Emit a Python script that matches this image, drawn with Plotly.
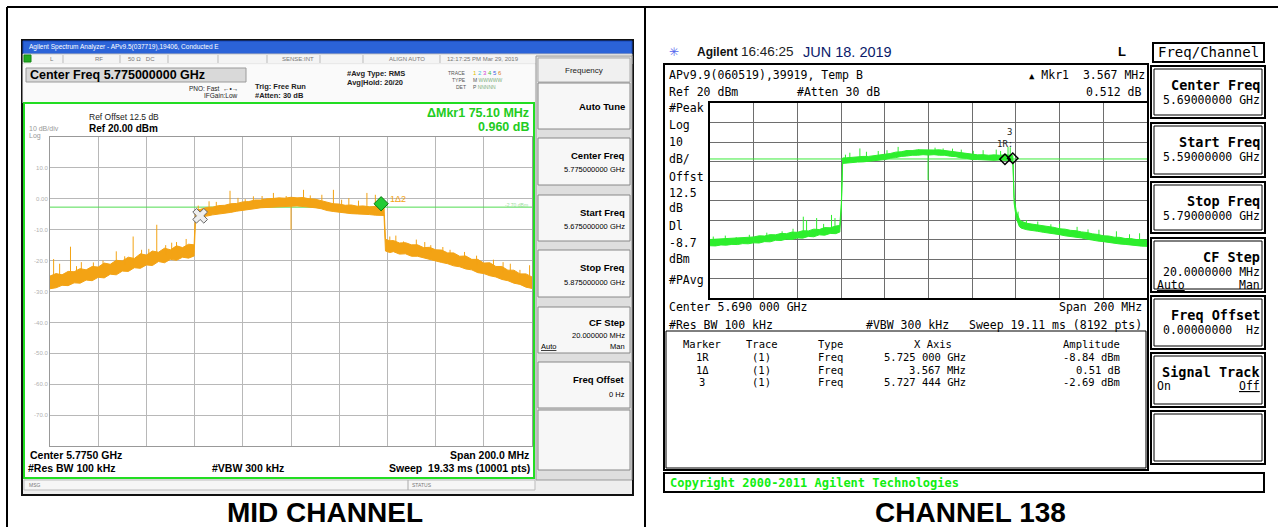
import plotly.graph_objects as go

W, H = 1278, 527
SANS = 'Liberation Sans, Arial, sans-serif'
MONO = 'DejaVu Sans Mono, monospace'

# ---- MID CHANNEL (left analyzer), offsets in MHz from 5675 MHz ----
mid_start = 5675
mid_f = [0, 2.5, 5, 7.5, 10, 12.5, 15, 17.5, 20, 22.5, 25, 27.5, 30, 32.5, 35, 37.5, 40, 42.5,
         45, 47.5, 50, 52.5, 55, 57.5, 59.8,
         60.4, 62.5, 65, 67.5, 70, 72.5, 75, 77.5, 80, 82.5, 85, 87.5, 90, 92.5, 95, 97.5, 100,
         102.5, 105, 107.5, 110, 112.5, 115, 117.5, 120, 122.5, 125, 127.5, 130, 132.5, 135,
         137.5, 138.6,
         139.2, 141, 142.5, 145, 147.5, 150, 152.5, 155, 157.5, 160, 162.5, 165, 167.5, 170,
         172.5, 175, 177.5, 180, 182.5, 185, 187.5, 190, 192.5, 195, 197.5, 200]
mid_hi = [-25.0, -24.2, -24.6, -23.5, -23.6, -22.6, -23.0, -21.9, -22.1, -20.8, -21.2, -19.9,
          -20.1, -18.9, -19.3, -17.8, -18.2, -16.9, -17.3, -16.0, -16.5, -15.2, -15.8, -14.7,
          -14.9,
          -3.6, -3.4, -2.8, -2.7, -2.2, -2.1, -1.6, -1.5, -1.0, -0.9, -0.4, -0.4, 0.0, 0.1, 0.3,
          0.2, 0.5, 0.3, 0.4, 0.0, -0.1, -0.6, -1.0, -1.6, -1.7, -2.1, -2.0, -2.4, -2.3, -2.6,
          -2.5, -2.8, -2.6,
          -13.1, -13.6, -13.5, -14.3, -14.2, -14.9, -14.9, -15.8, -15.7, -16.5, -16.6, -17.5,
          -17.5, -18.6, -18.5, -19.6, -19.6, -20.8, -20.7, -21.9, -21.9, -23.1, -23.1, -24.3,
          -24.3, -25.3]
mid_lo = [-29.1, -28.8, -28.0, -28.1, -27.2, -27.3, -26.3, -26.5, -25.4, -25.6, -24.4, -24.6,
          -23.4, -23.5, -22.3, -22.5, -21.4, -21.6, -20.3, -20.7, -19.6, -19.9, -18.9, -19.2,
          -18.5,
          -6.4, -5.9, -5.6, -5.2, -5.0, -4.6, -4.4, -4.0, -3.8, -3.4, -3.2, -2.9, -2.8, -2.5,
          -2.5, -2.3, -2.4, -2.3, -2.5, -2.6, -2.9, -3.2, -3.8, -4.1, -4.5, -4.6, -4.8, -4.9,
          -5.1, -5.1, -5.3, -5.3, -5.4,
          -16.9, -17.4, -17.1, -17.9, -17.8, -18.6, -18.6, -19.3, -19.6, -20.1, -20.6, -21.0,
          -21.7, -22.0, -22.7, -23.0, -23.9, -24.2, -24.9, -25.3, -26.1, -26.5, -27.3, -27.7,
          -28.6, -29.0]
mid_spk_f = [1.5, 4, 8.5, 11, 13, 18, 22, 27.5, 31, 34.5, 38, 41, 44.3, 48, 50.5, 52.5, 56.5,
             61.5, 66, 69, 74.7, 78, 81, 84.4, 88, 92.7, 98, 100, 105.2, 108, 112.8, 117.6, 121,
             124, 128, 131.5, 135, 141, 143.5, 146.7, 152, 155.5, 158, 163, 166, 172, 177, 184,
             188, 191, 195, 199]
mid_spk_top = [-19.5, -21, -15.5, -21.8, -20.5, -20.6, -20, -17, -18.6, -12.2, -16.5, -16.2,
               -8.4, -15, -14.2, -14, -13, -2.2, -0.8, -1.0, 2.6, 0.3, -0.1, 0.8, 0.9, 1.9, 0.9,
               -1.2, 2.9, 1.1, 1.3, 2.9, -0.3, 0.2, -0.6, 1.9, 1.3, -12.2, -11.9, -13.8, -13.2,
               -14.0, -15, -15.6, -16.5, -17.2, -18.4, -19.7, -20.5, -21, -23, -21.5]
mid_spk_base = [-26, -25.5, -25, -24.5, -24, -23.5, -23, -22, -21.5, -20.5, -20, -19.5, -19,
                -18.5, -18.2, -17.5, -17, -4.5, -4, -3.8, -3, -2.5, -2.2, -2, -1.7, -1.5, -1.2,
                -10, -1, -1.3, -1.5, -2, -3, -3, -3.5, -3.5, -3.8, -15, -15.5, -16, -16.5,
                -17, -17.5, -18.5, -19, -20.5, -21.5, -23, -24, -24.5, -26, -26.5]
mid_dl = -2.7
mid_yticks = [10, 0, -10, -20, -30, -40, -50, -60, -70]
mid_yticktext = ['10.0', '0.00', '-10.0', '-20.0', '-30.0', '-40.0', '-50.0', '-60.0', '-70.0']

# ---- CHANNEL 138 (right analyzer), offsets in MHz from 5590 MHz ----
ch_start = 5590
ch_f = [0, 2.5, 5, 7.5, 10, 12.5, 15, 17.5, 20, 22.5, 25, 27.5, 30, 32.5, 35, 37.5, 40, 42.5,
        45, 47.5, 50, 52.5, 55, 57.5, 59.4, 60.1,
        60.7, 62.5, 65, 67.5, 70, 72.5, 75, 77.5, 80, 82.5, 85, 87.5, 90, 92.5, 95, 97.5, 100,
        102.5, 105, 107.5, 110, 112.5, 115, 117.5, 120, 122.5, 125, 127.5, 130, 132.5, 135,
        137.5, 138.6,
        139.2, 140.2, 141.6, 142.5, 145, 147.5, 150, 152.5, 155, 157.5, 160, 162.5, 165, 167.5,
        170, 172.5, 175, 177.5, 180, 182.5, 185, 187.5, 190, 192.5, 195, 197.5, 200]
ch_hi = [-50.0, -49.8, -49.9, -49.4, -49.5, -49.0, -49.1, -48.6, -48.7, -48.1, -48.2, -47.5,
         -47.6, -46.9, -47.0, -46.2, -46.3, -45.5, -45.6, -44.7, -44.9, -43.9, -44.0, -43.1,
         -42.8, -31.6,
         -8.2, -8.1, -7.8, -7.7, -7.4, -7.4, -7.0, -6.9, -6.2, -5.9, -5.2, -5.0, -4.4, -4.4,
         -4.0, -4.1, -3.9, -4.1, -4.0, -4.4, -4.5, -5.1, -5.4, -6.0, -6.2, -6.6, -6.5, -6.8,
         -6.6, -6.8, -6.6, -6.9, -6.8,
         -28.5, -35.8, -39.6, -40.6, -41.7, -42.1, -42.7, -42.9, -43.5, -43.8, -44.5, -44.7,
         -45.3, -45.5, -46.1, -46.4, -47.1, -47.4, -48.1, -48.2, -48.8, -48.9, -49.5, -49.5,
         -50.0, -50.0, -50.4]
ch_lo = [-53.2, -53.3, -52.8, -52.9, -52.5, -52.6, -52.1, -52.2, -51.7, -51.8, -51.1, -51.2,
         -50.4, -50.5, -49.8, -50.0, -49.2, -49.3, -48.4, -48.6, -47.6, -47.8, -46.9, -47.0,
         -46.2, -34.5,
         -11.0, -10.7, -10.6, -10.3, -10.2, -9.8, -9.8, -9.3, -9.0, -8.3, -8.0, -7.4, -7.2,
         -6.8, -6.8, -6.5, -6.7, -6.5, -6.8, -6.8, -7.3, -7.5, -8.2, -8.4, -9.0, -9.0, -9.3,
         -9.2, -9.4, -9.2, -9.4, -9.3, -9.6,
         -31.5, -39.2, -43.4, -44.2, -45.0, -45.5, -45.8, -46.3, -46.6, -47.2, -47.5, -48.1,
         -48.3, -48.9, -49.2, -49.8, -50.1, -50.8, -51.1, -51.6, -51.8, -52.3, -52.5, -52.9,
         -53.0, -53.4, -53.5]
ch_spk_f = [1.5, 7, 12, 18, 26, 33, 38, 42.7, 44.2, 48.8, 52, 55.6, 57.2, 62, 64, 68.6, 71.6,
            77, 81, 86.1, 90, 95.5, 99.8, 103, 106.7, 111, 115, 120.5, 125, 131, 133, 136.4,
            137.4, 141, 144.8, 150, 156, 160, 168, 173, 178, 186, 192, 196.6]
ch_spk_top = [-48.5, -48, -48.8, -47.6, -46.5, -45.8, -44.5, -38.3, -40, -39, -42, -37.4, -39,
              -6.5, -5.5, -3.3, -5, -4.6, -4.2, -2.5, -4.2, -3.8, -5.3, -2.9, -3.3, -3.4, -3.9,
              -4.5, -4.2, -3.9, -4.6, -2.5, -2.7, -35.7, -40, -40.8, -42.2, -42, -43.5, -44.8,
              -45, -45.8, -47.3, -46.8]
ch_spk_base = [-51, -51, -50.5, -50, -49.5, -48.5, -48, -47, -47, -46.5, -46, -45.5, -45,
               -9.2, -9, -8.8, -8.5, -8, -7.2, -6.5, -5.8, -5.4, -19.5, -5.3, -5.4, -5.6, -6.8,
               -7.6, -7.9, -8, -8, -8, -8, -41, -43, -44, -45, -46, -47, -48, -48.5, -50, -51,
               -51.5]
ch_dl = -8.7
ch_mkr_f = [5.725, 5.728567]
ch_mkr_a = [-8.84, -8.33]

marker_rows = [['1R', '(1)', 'Freq', '5.725 000 GHz', '-8.84 dBm'],
               ['1\u0394', '(1)', 'Freq', '3.567 MHz', '0.51 dB'],
               ['3', '(1)', 'Freq', '5.727 444 GHz', '-2.69 dBm']]

fig = go.Figure()


def ghz(start, offs):
    return [(start + v) / 1000 for v in offs]


def band(start, f, hi, lo, color, xa, ya):
    fig.add_trace(go.Scatter(x=ghz(start, f) + ghz(start, f[::-1]), y=hi + lo[::-1],
                             fill='toself', fillcolor=color, mode='lines',
                             line=dict(color=color, width=1), xaxis=xa, yaxis=ya,
                             hoverinfo='skip', showlegend=False))


def spikes(start, f, top, base, color, xa, ya):
    xs, ys = [], []
    for a, t, b in zip(f, top, base):
        xs += [(start + a) / 1000, (start + a) / 1000, None]
        ys += [b, t, None]
    fig.add_trace(go.Scatter(x=xs, y=ys, mode='lines', line=dict(color=color, width=1),
                             xaxis=xa, yaxis=ya, hoverinfo='skip', showlegend=False))


ORANGE = 'rgb(243,163,20)'
GREEN = 'rgb(45,238,45)'

# left trace
fig.add_trace(go.Scatter(x=[mid_start / 1000, (mid_start + 200) / 1000], y=[mid_dl, mid_dl],
                         mode='lines', line=dict(color='rgb(80,220,80)', width=1),
                         xaxis='x', yaxis='y', showlegend=False, hoverinfo='skip'))
band(mid_start, mid_f, mid_hi, mid_lo, ORANGE, 'x', 'y')
spikes(mid_start, mid_spk_f, mid_spk_top, mid_spk_base, ORANGE, 'x', 'y')
fig.add_trace(go.Scatter(x=[5.7373], y=[-5.5], mode='markers',
                         marker=dict(symbol='x', size=13, color='#eeeeee',
                                     line=dict(color='#666666', width=1)),
                         xaxis='x', yaxis='y', showlegend=False))
fig.add_trace(go.Scatter(x=[5.8124], y=[-1.6], mode='markers',
                         marker=dict(symbol='diamond', size=11, color='#22cc33',
                                     line=dict(color='#117711', width=1)),
                         xaxis='x', yaxis='y', showlegend=False))

# right trace
fig.add_trace(go.Scatter(x=[ch_start / 1000, (ch_start + 200) / 1000], y=[ch_dl, ch_dl],
                         mode='lines', line=dict(color='rgb(60,235,60)', width=1),
                         xaxis='x2', yaxis='y2', showlegend=False, hoverinfo='skip'))
band(ch_start, ch_f, ch_hi, ch_lo, GREEN, 'x2', 'y2')
spikes(ch_start, ch_spk_f, ch_spk_top, ch_spk_base, GREEN, 'x2', 'y2')
fig.add_trace(go.Scatter(x=ch_mkr_f, y=ch_mkr_a, mode='markers',
                         marker=dict(symbol='diamond-open', size=8, color='black',
                                     line=dict(width=1.5)),
                         xaxis='x2', yaxis='y2', showlegend=False))

shapes, ann = [], []


def box(x0, y0, x1, y1, line='black', width=1, fill='rgba(0,0,0,0)'):
    shapes.append(dict(type='rect', xref='paper', yref='paper', x0=x0 / W, x1=x1 / W,
                       y0=1 - y1 / H, y1=1 - y0 / H, fillcolor=fill, layer='below',
                       line=dict(color=line, width=width)))


def hline(x0, x1, y, color='black', width=1):
    shapes.append(dict(type='line', xref='paper', yref='paper', x0=x0 / W, x1=x1 / W,
                       y0=1 - y / H, y1=1 - y / H, line=dict(color=color, width=width)))


def vline(x, y0, y1, color='black', width=1):
    shapes.append(dict(type='line', xref='paper', yref='paper', x0=x / W, x1=x / W,
                       y0=1 - y0 / H, y1=1 - y1 / H, line=dict(color=color, width=width)))


def txt(x, y, s, size, color='black', anchor='left', family=SANS, bold=False):
    ann.append(dict(x=x / W, y=1 - y / H, xref='paper', yref='paper',
                    text='<b>%s</b>' % s if bold else s, showarrow=False, xanchor=anchor,
                    yanchor='middle', font=dict(size=size, color=color, family=family)))


# page frame
hline(7, W, 7, width=2)
vline(7, 7, H, width=2)
vline(645, 7, H, width=2)

# ---------- left analyzer screen ----------
box(22, 40, 633, 495, line='#111111', width=2, fill='#eeeeee')
box(23, 41, 632, 54, line='#1646b8', fill='#2b63d8')
txt(27, 47.5, 'Agilent Spectrum Analyzer - APv9.5(037719),19406, Conducted E', 6.5, 'white')
box(23, 54, 632, 64, line='#c8c8c8', fill='#f4f4f4')
box(24, 55, 31, 62, line='#118811', fill='#22aa22')
for sx in [63, 120, 168, 218, 267, 320, 363, 440]:
    vline(sx, 55, 63, color='#bbbbbb')
for sx, s in [(48, 'L'), (93, 'RF'), (126, '50 \u03a9   DC'), (280, 'SENSE:INT'),
              (387, 'ALIGN AUTO'), (445, '12:17:25 PM Mar 29, 2019')]:
    txt(sx, 59, s, 6, '#777777')
box(23, 64, 535, 103, line='#f4f4f4', fill='#fafafa')
box(26, 68, 246, 82, line='#9a9a9a', fill='#d9d9d9')
txt(28, 75, 'Center Freq 5.775000000 GHz', 12.5, bold=True)
txt(240, 88, 'PNO: Fast  \u2190\u2022\u2192', 6.5, '#222222', anchor='right')
txt(240, 96, 'IFGain:Low', 6.5, '#222222', anchor='right')
txt(253, 86, 'Trig: Free Run', 7.5, '#222222', bold=True)
txt(253, 95, '#Atten: 30 dB', 7.5, '#222222', bold=True)
txt(345, 74, '#Avg Type: RMS', 7.5, '#222222', bold=True)
txt(345, 83, 'Avg|Hold: 20/20', 7.5, '#222222', bold=True)
txt(468, 73, 'TRACE', 5, '#555555', anchor='right')
txt(468, 80, 'TYPE', 5, '#555555', anchor='right')
txt(468, 87, 'DET', 5, '#555555', anchor='right')
txt(471, 73, '<span style="color:#e0c000">1</span> <span style="color:#40c0e0">2</span> '
    '<span style="color:#d040d0">3</span> <span style="color:#40c040">4</span> '
    '<span style="color:#4060e0">5</span> <span style="color:#e08020">6</span>', 6)
txt(471, 80, 'M <span style="color:#80b080">WWWWW</span>', 5, '#555555')
txt(471, 87, 'P <span style="color:#80b080">NNNNN</span>', 5, '#555555')

# green display frame
box(24, 103, 534, 478, line='#22dd22', width=2, fill='white')
txt(87, 117, 'Ref Offset 12.5 dB', 8.5, '#222222')
txt(87, 128, 'Ref 20.00 dBm', 10, bold=True)
txt(27, 129, '10 dB/div', 7, '#999999')
txt(27, 136, 'Log', 7, '#999999')
txt(531, 113, '\u0394Mkr1 75.10 MHz', 12.5, '#22cc22', anchor='right', bold=True)
txt(531, 127, '0.960 dB', 12.5, '#22cc22', anchor='right', bold=True)
txt(530, 205, '-2.70 dBm', 5, '#99dd99', anchor='right')
txt(28, 455, 'Center 5.7750 GHz', 10.5, bold=True)
txt(531, 455, 'Span 200.0 MHz', 10.5, anchor='right', bold=True)
txt(26, 468, '#Res BW 100 kHz', 10.5, bold=True)
txt(210, 468, '#VBW 300 kHz', 10.5, bold=True)
txt(532, 468, 'Sweep  19.33 ms (10001 pts)', 10.5, anchor='right', bold=True)
box(24, 480, 535, 490, line='#bbbbbb', fill='#f6f6f6')
vline(408, 480, 490, color='#aaaaaa')
txt(27, 485, 'MSG', 5, '#777777')
txt(410, 485, 'STATUS', 5, '#777777')

# left softkey menu
box(536, 56, 632, 480, line='#999999', fill='#dedede')
box(538, 58, 630, 82, line='#aaaaaa', fill='#f0f0f0')
txt(584, 70, 'Frequency', 8, '#222222', anchor='center')
keys_l = [(83, 129, 'Auto Tune', None, None), (138, 185, 'Center Freq', '5.775000000 GHz', None),
          (195, 241, 'Start Freq', '5.675000000 GHz', None),
          (250, 297, 'Stop Freq', '5.875000000 GHz', None),
          (307, 353, 'CF Step', '20.000000 MHz', 'Auto'),
          (362, 408, 'Freq Offset', '0 Hz', None)]
for y0, y1, lab, val, extra in keys_l:
    box(538, y0, 630, y1, line='#888888', fill='#f7f7f7')
    if val is None:
        txt(627, (y0 + y1) / 2, lab, 9.5, anchor='right', bold=True)
    elif extra:
        txt(627, y0 + 15, lab, 9.5, anchor='right', bold=True)
        txt(627, y0 + 28, val, 7.5, anchor='right')
        txt(539, y0 + 39, '<u>Auto</u>', 7.5)
        txt(627, y0 + 39, 'Man', 7.5, anchor='right')
    else:
        txt(627, y0 + 17, lab, 9.5, anchor='right', bold=True)
        txt(627, y0 + 32, val, 7.5, anchor='right')
box(538, 410, 630, 470, line='#888888', fill='#f7f7f7')

# ---------- right analyzer screen ----------
txt(674, 52, '\u2733', 12, '#5566ee', anchor='center')
txt(695, 52, '<b>Agilent</b>', 12, '#111111')
txt(739, 52, '16:46:25', 13.5, '#222222')
txt(801, 52, 'JUN 18. 2019', 14.5, '#0a1a6a')
txt(1116, 52, 'L', 13, bold=True)
box(1153, 43, 1264, 62, width=2)
txt(1208, 52.5, 'Freq/Channel', 14, anchor='center', family=MONO)

box(664, 64, 1148, 470, width=2)
box(666, 331, 1146, 468, width=1)
txt(667, 75, 'APv9.9(060519),39919, Temp B', 11.5, family=MONO)
txt(1147, 75, '<span style="font-size:9px">\u25b2</span> Mkr1  3.567 MHz', 11.5,
    anchor='right', family=MONO)
txt(667, 92, 'Ref 20 dBm', 11.5, family=MONO)
txt(795, 92, '#Atten 30 dB', 11.5, family=MONO)
txt(1143, 92, '0.512 dB', 11.5, anchor='right', family=MONO)
for yy, s in [(108, '#Peak'), (125, 'Log'), (142, '10'), (159, 'dB/'), (177, 'Offst'),
              (193, '12.5'), (208, 'dB'), (226, 'Dl'), (243, '-8.7'), (259, 'dBm'),
              (280, '#PAvg')]:
    txt(667, yy, s, 11.5, family=MONO)
txt(667, 307, 'Center 5.690 000 GHz', 11.5, family=MONO)
txt(1144, 307, 'Span 200 MHz', 11.5, anchor='right', family=MONO)
txt(667, 325, '#Res BW 100 kHz', 11.5, family=MONO)
txt(864, 325, '#VBW 300 kHz', 11.5, family=MONO)
txt(1144, 325, 'Sweep 19.11 ms (8192 pts)', 11.5, anchor='right', family=MONO)

hdr = [(702, 'center', 'Marker'), (762, 'center', 'Trace'), (816, 'left', 'Type'),
       (933, 'center', 'X Axis'), (1122, 'right', 'Amplitude')]
for cx, an, s in hdr:
    txt(cx, 344, s, 10.5, anchor=an, family=MONO)
cols = [(702, 'center'), (762, 'center'), (816, 'left'), (968, 'right'), (1122, 'right')]
for i, row in enumerate(marker_rows):
    for (cx, an), s in zip(cols, row):
        txt(cx, 357 + 12.5 * i, s, 10.5, anchor=an, family=MONO)

# right softkeys
keys_r = [(66, 118, 'Center Freq', '5.69000000 GHz', None),
          (123, 177, 'Start Freq', '5.59000000 GHz', None),
          (182, 233, 'Stop Freq', '5.79000000 GHz', None),
          (238, 292, 'CF Step', '20.0000000 MHz', ('<u>Auto</u>', 'Man')),
          (296, 349, 'Freq Offset', '0.00000000  Hz', None),
          (353, 407, 'Signal Track', None, ('On', '<u>Off</u>')),
          (411, 464, None, None, None)]
for y0, y1, lab, val, extra in keys_r:
    box(1151, y0, 1265, y1, width=2)
    box(1154, y0 + 3, 1262, y1 - 3, width=1)
    if lab:
        txt(1262, y0 + 19, lab, 13.5, anchor='right', family=MONO, bold=True)
    if val:
        txt(1262, y0 + 34, val, 11.5, anchor='right', family=MONO)
    if extra:
        yy = y0 + 47 if val else y0 + 33
        txt(1155, yy, extra[0], 11.5, family=MONO)
        txt(1262, yy, extra[1], 11.5, anchor='right', family=MONO)

box(664, 473, 1264, 492, width=2)
txt(668, 483, '<b>Copyright 2000-2011 Agilent Technologies</b>', 12, '#11ee11', family=MONO)

# markers labels in plots
ann.append(dict(x=5.7271, y=5.0, xref='x2', yref='y2', text='3', showarrow=False,
                font=dict(size=9, family=MONO, color='#222222')))
ann.append(dict(x=5.7249, y=-0.8, xref='x2', yref='y2', text='1R:', showarrow=False,
                font=dict(size=9, family=MONO, color='#222222')))
ann.append(dict(x=5.8195, y=-0.2, xref='x', yref='y', text='1\u03942', showarrow=False,
                font=dict(size=9, family=SANS, color=ORANGE)))

# captions
txt(325, 512, 'MID CHANNEL', 28, anchor='center', bold=True)
txt(970, 512, 'CHANNEL 138', 28, anchor='center', bold=True)

axis_common = dict(showline=True, mirror=True, zeroline=False, ticks='', automargin=False)
fig.update_layout(
    width=W, height=H, margin=dict(l=0, r=0, t=0, b=0),
    paper_bgcolor='white', plot_bgcolor='white', showlegend=False,
    shapes=shapes, annotations=ann,
    xaxis=dict(domain=[50 / W, 532 / W], range=[5.675, 5.875], tick0=5.675, dtick=0.02,
               showticklabels=False, showgrid=True, gridcolor='#b8b8b8', linecolor='#999999',
               anchor='y', **axis_common),
    yaxis=dict(domain=[1 - 446 / H, 1 - 137 / H], range=[-80, 20], tickvals=mid_yticks,
               ticktext=mid_yticktext, tickfont=dict(size=6, color='#b0b0b0', family=SANS),
               showgrid=True, gridcolor='#b8b8b8', linecolor='#999999', anchor='x',
               **axis_common),
    xaxis2=dict(domain=[710 / W, 1147 / W], range=[5.59, 5.79], tick0=5.59, dtick=0.02,
                showticklabels=False, showgrid=True, gridcolor='#6e6e6e', linecolor='black',
                linewidth=1.5, anchor='y2', **axis_common),
    yaxis2=dict(domain=[1 - 298 / H, 1 - 103 / H], range=[-80, 20], dtick=10,
                showticklabels=False, showgrid=True, gridcolor='#6e6e6e', linecolor='black',
                linewidth=1.5, anchor='x2', **axis_common),
)

fig.write_html('out.html', config=dict(displayModeBar=False),
               post_script="document.body.style.margin='0';document.body.style.overflow='hidden';")
